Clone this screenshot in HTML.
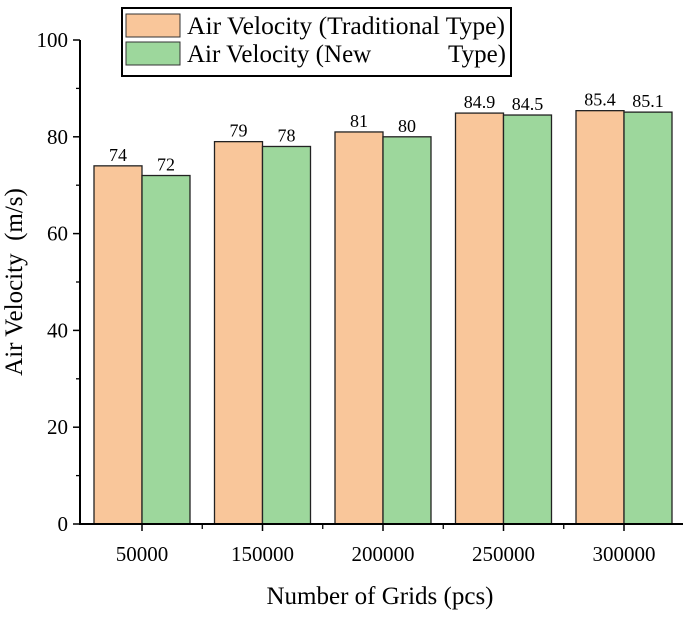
<!DOCTYPE html>
<html><head><meta charset="utf-8"><style>
html,body{margin:0;padding:0;background:#fff;}
svg{display:block;font-family:"Liberation Serif",serif;}
</style></head><body>
<svg id="chart" width="685" height="619" viewBox="0 0 685 619">
<g id="bars"></g>
<g id="axes"></g>
<text x="22" y="282" transform="rotate(-90 22 282)" text-anchor="middle" font-size="25" style="white-space:pre">Air Velocity  (m/s)</text>
<text x="380" y="604" text-anchor="middle" font-size="25">Number of Grids (pcs)</text>
<g>
<rect x="122" y="8" width="389" height="68" fill="#fff" stroke="#000" stroke-width="2"/>
<rect x="126" y="14" width="54" height="23" fill="#f9c69a" stroke="#333"/>
<text x="187" y="34" font-size="25" textLength="318" lengthAdjust="spacingAndGlyphs">Air Velocity (Traditional Type)</text>
<rect x="126" y="42" width="54" height="23" fill="#9dd79c" stroke="#333"/>
<text x="187" y="62" font-size="25">Air Velocity (New</text>
<text x="506" y="62" font-size="25" text-anchor="end">Type)</text>
</g>
</svg>
<script>
const categories = ["50000","150000","200000","250000","300000"];
const traditional = [74,79,81,84.9,85.4];
const newType = [72,78,80,84.5,85.1];
const traditionalLabels = ["74","79","81","84.9","85.4"];
const newLabels = ["72","78","80","84.5","85.1"];
const yTicks = [0,20,40,60,80,100];

const NS="http://www.w3.org/2000/svg";
const x0=80, x1=683, yTop=40, yBot=524;
const step=120.5, first=142, bw=48;
function yScale(v){return yBot-(v/100)*(yBot-yTop);}
function xCenter(i){return first+i*step;}
function mk(tag,attrs,parent){const e=document.createElementNS(NS,tag);for(const k in attrs)e.setAttribute(k,attrs[k]);parent.appendChild(e);return e;}
const bars=document.getElementById('bars'), axes=document.getElementById('axes');

categories.forEach((c,i)=>{
  const cx=xCenter(i);
  let r=mk('rect',{x:cx-bw,y:yScale(traditional[i]),width:bw,height:yBot-yScale(traditional[i]),fill:'#f9c69a',stroke:'#222','stroke-width':1.3},bars);
  
  
  r=mk('rect',{x:cx,y:yScale(newType[i]),width:bw,height:yBot-yScale(newType[i]),fill:'#9dd79c',stroke:'#222','stroke-width':1.3},bars);
  
  
  let t=mk('text',{x:cx-bw/2,y:yScale(traditional[i])-5,'text-anchor':'middle','font-size':18},bars);
  t.textContent=traditionalLabels[i];
  
  
  t=mk('text',{x:cx+bw/2,y:yScale(newType[i])-5,'text-anchor':'middle','font-size':18},bars);
  t.textContent=newLabels[i];
  
  
  let tk=mk('line',{x1:cx,x2:cx,y1:yBot,y2:yBot+7,stroke:'#000','stroke-width':1.5},axes);
  
  
  let tl=mk('text',{x:cx,y:yBot+37,'text-anchor':'middle','font-size':21},axes);
  tl.textContent=c;
  
  
  const mx=cx+step/2;
  if(mx<x1){let m=mk('line',{x1:mx,x2:mx,y1:yBot,y2:yBot+5,stroke:'#000','stroke-width':1.3},axes);
  
  }
});
yTicks.forEach((v,i)=>{
  const y=yScale(v);
  let tk=mk('line',{x1:x0-7,x2:x0,y1:y,y2:y,stroke:'#000','stroke-width':1.5},axes);
  
  
  let tl=mk('text',{x:x0-12,y:y+7,'text-anchor':'end','font-size':21},axes);
  tl.textContent=v;
  
  
  if(i<yTicks.length-1){const ym=yScale((v+yTicks[i+1])/2);
  let m=mk('line',{x1:x0-4,x2:x0,y1:ym,y2:ym,stroke:'#000','stroke-width':1.3},axes);
  
  }
});
let ya=mk('line',{x1:x0,x2:x0,y1:yTop,y2:yBot+1,stroke:'#000','stroke-width':2},axes);


let xa=mk('line',{x1:x0-1,x2:x1,y1:yBot,y2:yBot,stroke:'#000','stroke-width':2},axes);


</script>
</body></html>
